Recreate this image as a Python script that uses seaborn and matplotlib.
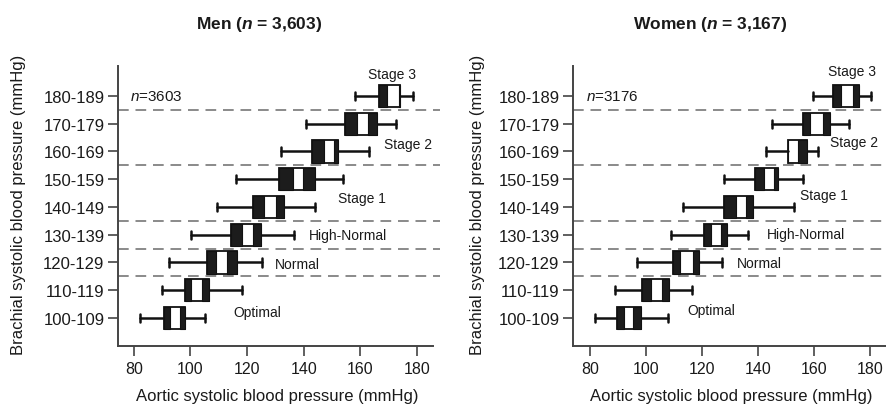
import numpy as np
import pandas as pd
import matplotlib
matplotlib.use("Agg")
import matplotlib.pyplot as plt
import seaborn as sns

# ---------------- data ----------------
categories = ["100-109", "110-119", "120-129", "130-139", "140-149",
              "150-159", "160-169", "170-179", "180-189"]

men_whislo = [82.1, 89.8, 92.3, 100.1, 109.2, 116.0, 132.0, 141.0, 158.0]
men_q1     = [90.6, 98.0, 105.9, 114.2, 122.0, 131.2, 142.8, 154.6, 166.7]
men_gaplo  = [92.7, 100.1, 109.0, 118.1, 125.9, 136.1, 147.1, 158.9, 169.3]
men_gaphi  = [96.3, 103.9, 112.9, 122.0, 130.2, 139.6, 150.7, 162.8, 173.6]
men_q3     = [98.0, 106.5, 116.3, 125.1, 133.0, 144.0, 152.0, 165.8, 174.0]
men_whishi = [105.3, 118.2, 125.2, 136.5, 144.0, 154.0, 163.1, 172.8, 178.8]

women_whislo = [81.8, 88.9, 96.9, 108.9, 113.1, 128.0, 142.9, 144.9, 159.8]
women_q1     = [89.5, 98.5, 109.8, 120.7, 128.0, 138.9, 150.6, 156.2, 166.9]
women_gaplo  = [92.1, 101.7, 112.1, 123.1, 132.0, 142.1, 150.6, 158.6, 169.5]
women_gaphi  = [95.5, 105.6, 116.7, 126.7, 135.6, 145.8, 154.4, 163.1, 174.0]
women_q3     = [98.1, 108.2, 119.0, 128.8, 138.1, 147.0, 157.4, 165.7, 176.0]
women_whishi = [108.0, 116.3, 127.0, 136.5, 153.0, 156.2, 161.3, 172.5, 180.2]

xticks = [80, 100, 120, 140, 160, 180]
boundaries = [1.5, 2.5, 3.5, 5.5, 7.5]

stage_labels = ["Stage 3", "Stage 2", "Stage 1", "High-Normal", "Normal", "Optimal"]
men_label_x = [171.3, 176.8, 160.6, 155.6, 137.8, 123.5]
men_label_y = [8.79, 6.27, 4.32, 2.99, 1.95, 0.22]
women_label_x = [173.7, 174.3, 163.7, 157.1, 140.4, 123.5]
women_label_y = [8.90, 6.34, 4.43, 3.03, 1.98, 0.27]

titles = ["Men ($\\mathbfit{n}$ = 3,603)", "Women ($\\mathbfit{n}$ = 3,167)"]
n_texts = ["$\\mathit{n}$=3603", "$\\mathit{n}$=3176"]

# ---------------- style ----------------
sns.set_theme(style="ticks")
plt.rcParams["font.family"] = ["Liberation Sans", "DejaVu Sans"]
plt.rcParams["mathtext.fontset"] = "custom"
plt.rcParams["mathtext.rm"] = "Liberation Sans"
plt.rcParams["mathtext.it"] = "Liberation Sans:italic"
plt.rcParams["mathtext.bf"] = "Liberation Sans:bold"
plt.rcParams["mathtext.bfit"] = "Liberation Sans:bold:italic"

TXT = "#1a1a1a"
fig = plt.figure(figsize=(8.87, 4.06), dpi=100)

W, H = 887.0, 406.0
ax_m = fig.add_axes([118.3 / W, 1 - 346.7 / H, (433 - 118.3) / W, (346.7 - 67) / H])
ax_w = fig.add_axes([573.3 / W, 1 - 346.7 / H, (887 - 573.3) / W, (346.7 - 67) / H])

panels = [
    (ax_m, men_whislo, men_q1, men_gaplo, men_gaphi, men_q3, men_whishi,
     (74.5, 185.7), men_label_x, men_label_y),
    (ax_w, women_whislo, women_q1, women_gaplo, women_gaphi, women_q3, women_whishi,
     (74.04, 186.07), women_label_x, women_label_y),
]

for i, (ax, wlo, q1, glo, ghi, q3, whi, xlim, lx, ly) in enumerate(panels):
    df = pd.DataFrame({"cat": categories, "wlo": wlo, "q1": q1, "glo": glo,
                       "ghi": ghi, "q3": q3, "whi": whi})
    pos = np.arange(len(df))
    stats = [dict(whislo=r.wlo, q1=r.q1, med=r.glo, q3=r.q3, whishi=r.whi, fliers=[])
             for r in df.itertuples()]
    ax.bxp(stats, positions=pos, widths=0.8, orientation="horizontal",
           patch_artist=True, manage_ticks=False, showfliers=False,
           boxprops=dict(facecolor="white", edgecolor="#111111", linewidth=1.3),
           whiskerprops=dict(color="#111111", linewidth=1.8),
           capprops=dict(color="#111111", linewidth=1.8),
           medianprops=dict(linewidth=0), capwidths=0.3, zorder=3)
    # dark inner bands of each box
    ax.barh(pos, df["glo"] - df["q1"], left=df["q1"], height=0.8,
            color="#1c1c1c", edgecolor="#111111", linewidth=0.8, zorder=4)
    ax.barh(pos, df["q3"] - df["ghi"], left=df["ghi"], height=0.8,
            color="#1c1c1c", edgecolor="#111111", linewidth=0.8, zorder=4)

    ax.hlines(boundaries, xlim[0], 188, colors="#8a8a8a", linestyles=(0, (5.5, 3.5)),
              linewidth=1.4, clip_on=False, zorder=1)

    ax.set_xlim(*xlim)
    ax.set_ylim(-1, 9.08)
    ax.set_xticks(xticks)
    ax.set_xticklabels([str(t) for t in xticks])
    ax.set_yticks(pos)
    ax.set_yticklabels(categories)
    ax.tick_params(axis="x", direction="out", length=7, width=1.2, pad=4,
                   labelsize=11.5, colors="#444444", labelcolor=TXT)
    ax.tick_params(axis="y", direction="out", length=7, width=1.2, pad=3,
                   labelsize=12, colors="#444444", labelcolor=TXT)
    sns.despine(ax=ax)
    for s in ["left", "bottom"]:
        ax.spines[s].set_color("#444444")
        ax.spines[s].set_linewidth(1.4)
    ax.set_xlabel("")
    ax.set_ylabel("")

    ax.text(78.5, 8, n_texts[i], fontsize=11, color=TXT, ha="left", va="center")
    for lab, x, y in zip(stage_labels, lx, ly):
        ax.text(x, y, lab, fontsize=10, color=TXT, ha="center", va="center")

# titles and axis labels
fig.text(259 / W, 1 - 24 / H, titles[0], fontsize=12.5, fontweight="bold",
         ha="center", va="center", color=TXT)
fig.text(710 / W, 1 - 24 / H, titles[1], fontsize=12.5, fontweight="bold",
         ha="center", va="center", color=TXT)
for xc in (18.5, 478):
    fig.text(xc / W, 1 - 205 / H, "Brachial systolic blood pressure (mmHg)",
             rotation=90, fontsize=12, ha="center", va="center", color=TXT)
for xc in (277, 731):
    fig.text(xc / W, 1 - 397 / H, "Aortic systolic blood pressure (mmHg)",
             fontsize=12, ha="center", va="center", color=TXT)

fig.savefig("out.png", dpi=100)
